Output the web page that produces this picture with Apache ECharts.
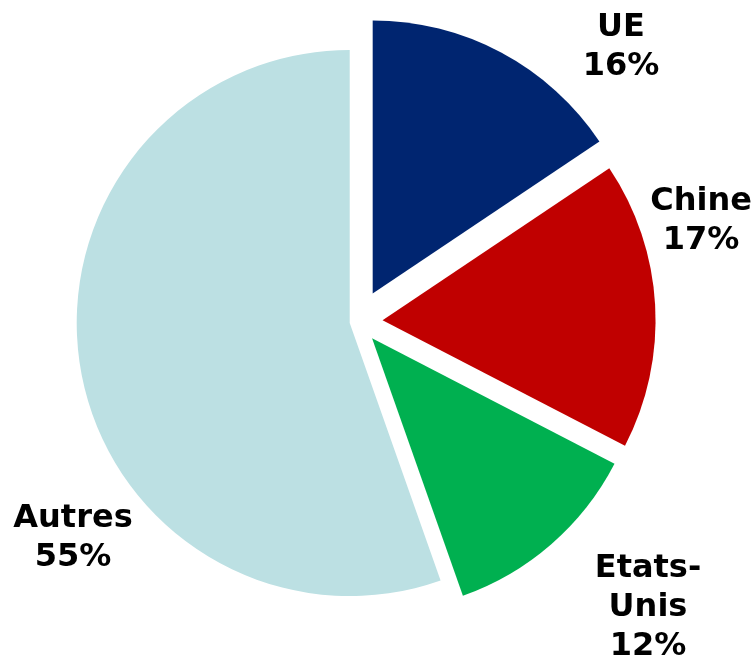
<!DOCTYPE html>
<html>
<head>
<meta charset="utf-8">
<script src="https://cdn.jsdelivr.net/npm/echarts@6/dist/echarts.min.js"></script>
<style>html,body{margin:0;padding:0;background:#fff;}#c{width:755px;height:658px;}</style>
</head>
<body>
<div id="c"></div>
<script>
// Data
var categories = ['UE', 'Chine', 'Etats-Unis', 'Autres'];
var values = [15.6, 17.0, 12.0, 55.4];
var colors = ['#002570', '#C00000', '#00B050', '#BCE0E3'];
// Presentation (explosion of each slice, label anchor positions)
var explode = [32, 25, 22, 8];
var labelPos = [[621, 47], [701, 221], [648, 608], [73, 538]];

var chart = echarts.init(document.getElementById('c'), null, {renderer: 'canvas'});
var series = categories.map(function (name, si) {
  return {
    type: 'pie',
    center: [357.6, 321.7],
    radius: [0, 273],
    startAngle: 90,
    clockwise: true,
    animation: false,
    silent: true,
    selectedMode: 'single',
    selectedOffset: explode[si],
    emphasis: {disabled: true},
    label: {show: false},
    labelLine: {show: false},
    data: categories.map(function (n, i) {
      var own = i === si;
      return {
        name: n,
        value: values[i],
        selected: own,
        itemStyle: {color: own ? colors[i] : 'rgba(0,0,0,0)'}
      };
    })
  };
});
var total = values.reduce(function (a, b) { return a + b; }, 0);
var graphics = categories.map(function (n, i) {
  return {
    type: 'text',
    x: labelPos[i][0],
    y: labelPos[i][1],
    silent: true,
    style: {
      text: n.replace('-', '-\n') + '\n' + Math.round(values[i] / total * 100) + '%',
      fontFamily: 'DejaVu Sans',
      fontWeight: 'bold',
      fontSize: 32,
      lineHeight: 39,
      fill: '#000',
      align: 'center',
      verticalAlign: 'middle'
    }
  };
});
chart.setOption({backgroundColor: '#fff', series: series, graphic: graphics});
</script>
</body>
</html>
